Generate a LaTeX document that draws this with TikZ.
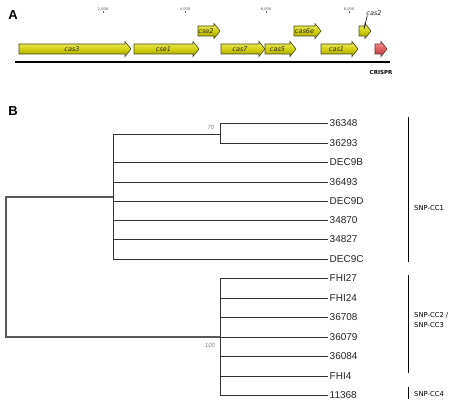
\documentclass[tikz,border=0pt]{standalone}
\usepackage{fontspec}
\setmainfont{Liberation Sans}
\newfontfamily\tahfont{DejaVu Sans}
\definecolor{geneY}{HTML}{D0D010}
\definecolor{geneYl}{HTML}{F0F070}
\definecolor{geneYd}{HTML}{A0A000}
\definecolor{geneOut}{HTML}{4A4A10}
\definecolor{crR}{HTML}{E05A5A}
\definecolor{crRl}{HTML}{F4A0A0}
\definecolor{branchC}{HTML}{333333}
\newcommand\genearrow[5]{%
  \path[genestyle] (#1,#3-5) -- (#2-6,#3-5) -- (#2-6,#3-7.5) -- (#2,#3) -- (#2-6,#3+7.5) -- (#2-6,#3+5) -- (#1,#3+5) -- cycle;
  \node[genelabel] (#4) at ({(#1+#2-6)/2},#3) {#5};}
\begin{document}
\begin{tikzpicture}[x=1pt,y=-1pt,
  genestyle/.style={draw=geneOut, line width=0.6pt, top color=geneYl, bottom color=geneYd, middle color=geneY},
  redgene/.style={draw=crR!50!black, line width=0.6pt, top color=crRl, bottom color=crR!80!black, middle color=crR},
  genelabel/.style={font=\tahfont\itshape\fontsize{6.5}{7}\selectfont, inner sep=0pt, text=black!85},
  scalelbl/.style={font=\tahfont\fontsize{3.5}{4}\selectfont, inner sep=0pt, text=black!70},
  paneltitle/.style={font=\bfseries\fontsize{13}{15}\selectfont, inner sep=0pt},
  branch/.style={draw=branchC, line width=0.9pt},
  rootbranch/.style={draw=black!65, line width=1.2pt},
  leaf/.style={font=\fontsize{10}{12}\selectfont, anchor=west, inner sep=1.5pt, text=black!85},
  boot/.style={font=\itshape\fontsize{6}{7}\selectfont, text=black!50, inner sep=0pt},
  grp/.style={font=\tahfont\fontsize{6.8}{8}\selectfont, anchor=west, inner sep=0pt, align=left},
  bar/.style={draw=black, line width=0.9pt}]
\useasboundingbox (0,0) rectangle (459,404);
\fill[white] (0,0) rectangle (459,404);

% ---------- Panel A ----------
\node[paneltitle] (tA) at (13,15) {A};
\foreach \xx/\lab/\nm in {103/{2,000}/s2, 185/{4,000}/s4, 266/{6,000}/s6, 349/{8,000}/s8}{
  \node[scalelbl] (\nm) at (\xx,9) {\lab};
  \draw[black!60, line width=0.4pt] (\xx,11.5) -- (\xx,13.5);
}
\draw[black, line width=1.5pt] (15,62) -- (390,62);
\genearrow{19}{131}{49}{g3}{cas3}
\genearrow{134}{199}{49}{ge1}{cse1}
\genearrow{198}{220}{31}{ge2}{cse2}
\genearrow{221}{265}{49}{g7}{cas7}
\genearrow{265}{296}{49}{g5}{cas5}
\genearrow{294}{321}{31}{g6}{cas6e}
\genearrow{321}{358}{49}{g1}{cas1}
\genearrow{359}{371}{31}{g2box}{}
\node[genelabel] (g2) at (374,13) {cas2};
\draw[black, line width=0.6pt] (g2.south west) ++(1,0) -- (364,29);
\path[redgene] (375,44) -- (381,44) -- (381,41.5) -- (387,49) -- (381,56.5) -- (381,54) -- (375,54) -- cycle;
\node[font=\tahfont\bfseries\fontsize{5.5}{6}\selectfont, inner sep=0pt] (crispr) at (381,72) {CRISPR};

% ---------- Panel B ----------
\node[paneltitle] (tB) at (13,111) {B};
\node[leaf] (l1) at (328,123) {36348};
\node[leaf] (l2) at (328,143) {36293};
\node[leaf] (l3) at (328,162) {DEC9B};
\node[leaf] (l4) at (328,182) {36493};
\node[leaf] (l5) at (328,201) {DEC9D};
\node[leaf] (l6) at (328,220) {34870};
\node[leaf] (l7) at (328,239.5) {34827};
\node[leaf] (l8) at (328,259) {DEC9C};
\node[leaf] (l9) at (328,278.5) {FHI27};
\node[leaf] (l10) at (328,298) {FHI24};
\node[leaf] (l11) at (328,317.5) {36708};
\node[leaf] (l12) at (328,337) {36079};
\node[leaf] (l13) at (328,356.5) {36084};
\node[leaf] (l14) at (328,376) {FHI4};
\node[leaf] (l15) at (328,395) {11368};
\coordinate (root) at (6,197);
\coordinate (rootb) at (6,337);
\coordinate (up) at (113,197);
\coordinate (c70) at (220,134);
\coordinate (low) at (220,337);
\draw[rootbranch] (up) -- (root) -- (rootb) -- (low);
\draw[branch] (up |- c70) -- (up |- l8);
\draw[branch] (up |- c70) -- (c70);
\draw[branch] (c70 |- l1) -- (c70 |- l2);
\foreach \l in {l1,l2}{\draw[branch] (c70 |- \l) -- (\l.west);}
\foreach \l in {l3,l4,l5,l6,l7,l8}{\draw[branch] (up |- \l) -- (\l.west);}
\draw[branch] (low |- l9) -- (low |- l15);
\foreach \l in {l9,l10,l11,l12,l13,l14,l15}{\draw[branch] (low |- \l) -- (\l.west);}
\node[boot] (b70) at (211,127) {70};
\node[boot] (b100) at (210,345) {100};
\draw[bar] (408,117) -- (408,262);
\node[grp] (cc1) at (414,208) {SNP-CC1};
\draw[bar] (408,275) -- (408,373);
\node[grp] (cc23) at (414,320) {SNP-CC2 /\\[2pt]SNP-CC3};
\draw[bar] (408,387) -- (408,399);
\node[grp] (cc4) at (414,394) {SNP-CC4};
\end{tikzpicture}
\end{document}
